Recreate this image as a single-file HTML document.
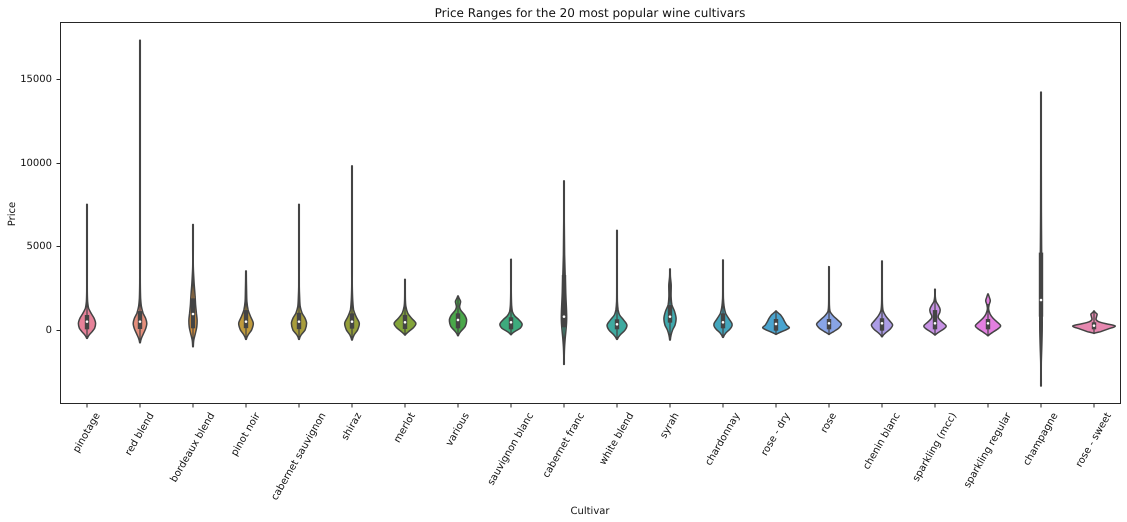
<!DOCTYPE html>
<html lang="en">
<head>
<meta charset="utf-8">
<title>Price Ranges for the 20 most popular wine cultivars</title>
<style>
html,body{margin:0;padding:0;background:#fff;width:1127px;height:522px;overflow:hidden}
svg{display:block}
text{font-family:"DejaVu Sans","Liberation Sans",sans-serif;font-size:10px;fill:#111;text-rendering:geometricPrecision}
</style>
</head>
<body>
<svg id="chart" xmlns="http://www.w3.org/2000/svg" width="1127" height="522" viewBox="0 0 1127 522"></svg>
<script>
const categories = ["pinotage","red blend","bordeaux blend","pinot noir","cabernet sauvignon","shiraz","merlot","various","sauvignon blanc","cabernet franc","white blend","syrah","chardonnay","rose - dry","rose","chenin blanc","sparkling (mcc)","sparkling regular","champagne","rose - sweet"];
const yTicks = [0,5000,10000,15000];
const fillColors = ["#e68299","#e58f7c","#d6923f","#bf9a3c","#a89d3c","#959f3a","#83a43a","#4aa84a","#3dab7d","#3dab8f","#3eaaa0","#40a9ad","#44a6bd","#4aa4cf","#88a4e6","#ac9de6","#c892e5","#e37fe0","#e383bf","#e688b0"];
const q1Values = [40,60,100,110,50,80,60,100,40,160,40,440,100,-40,40,-40,40,40,795,40];
const medianValues = [500,500,955,500,500,500,460,600,460,795,340,795,460,360,400,400,400,400,1790,260];
const q3Values = [896,1130,1890,1190,1030,995,900,995,760,3280,640,1490,995,656,656,700,1190,656,4620,460];
const whiskerLow = [-500,-760,-1000,-560,-560,-600,-300,-340,-280,-2050,-560,-600,-440,-260,-260,-400,-300,-340,-3340,-200];
const whiskerHigh = [2100,2700,4500,2800,2500,2400,2100,2030,1900,7900,1500,3100,2300,1135,1600,1800,2430,1550,9900,1060];
const priceLevels = [
[-500,-300,-100,100,400,700,1000,1300,1700,2300,3500,7500],
[-760,-500,-200,100,400,700,1000,1400,1900,2800,4000,17300],
[-1000,-600,-200,200,600,1000,1500,2000,2800,3800,5000,6300],
[-560,-300,0,400,800,1200,1700,2300,2900,3520],
[-560,-300,0,400,700,1000,1400,2000,2600,4000,7500],
[-600,-300,0,400,800,1200,1800,2600,3500,9800],
[-300,-100,150,400,700,1000,1400,1800,2400,3020],
[-340,-100,200,600,900,1200,1400,1700,1900,2030],
[-280,-100,100,350,600,850,1100,1500,2200,3000,4220],
[-2050,-1500,-1000,-500,0,500,1000,2000,3000,4500,6500,8900],
[-560,-300,0,300,600,900,1200,1700,2600,5950],
[-600,-300,0,300,700,1100,1500,2000,2700,3200,3640],
[-440,-200,100,350,700,1000,1400,1900,2800,4180],
[-260,-100,60,150,300,500,700,900,1050,1135],
[-260,-100,100,350,600,850,1100,1500,2300,3000,3780],
[-400,-200,50,300,550,850,1150,1600,2500,3200,4120],
[-300,-100,100,250,450,700,850,1050,1250,1500,1700,2000,2430],
[-340,-100,100,250,450,700,950,1250,1500,1750,2000,2150],
[-3340,-2000,-1000,0,1000,2000,3500,5000,7000,10000,14200],
[-200,-100,50,240,380,500,620,800,950,1060,1135]
];
const densities = [
[0,2.5,5.5,8,9,7.5,4.5,2,1,.4,.1,0],
[0,1.8,4,6.2,7.2,6,3.5,1.8,1,.4,.1,0],
[0,1.2,2.8,4.2,4.5,3.8,3,2.5,1.5,.5,.1,0],
[0,2.5,6,7.7,5,2.5,1.3,1,.8,0],
[0,2.5,6.5,8,6.5,3.5,1.6,1,.5,.1,0],
[0,2.5,6,7.7,4.5,2,1.1,.6,.1,0],
[0,4,9,11.3,7,3.2,1.3,.8,.5,0],
[0,3,7.5,9,7,3,2,3,1.5,0],
[0,4,9.5,11.5,8.5,4,1.8,1,.4,.2,0],
[0,.6,1,1.6,2.4,3,3,2.3,1.7,1,.6,0],
[0,3.5,8.5,10.3,7,3,1.5,.8,.3,0],
[0,1.5,3,5.5,6.5,5,2.3,1.5,1.6,.8,0],
[0,3,8,9.5,6,3,1.5,.8,.3,0],
[0,6,12,13.7,11,9,7.3,5,2,0],
[0,5,10,12.8,9,4.5,1.5,.8,.6,.3,0],
[0,3.5,8.5,11,8,4,1.5,.8,.4,.2,0],
[0,5,10,11.5,8,4,3.7,5.2,5.5,3.5,1.5,.6,0],
[0,6,11,13,10,5.5,2.5,1,1.5,2.7,1.5,0],
[0,.6,1.2,1.6,1.6,1.3,1.2,1,.8,.6,0],
[0,7,14,21.7,12,5,2.5,3,3.5,1.5,0]
];

const NS = "http://www.w3.org/2000/svg";
const svg = document.getElementById("chart");
const plotLeft = 60.5, plotRight = 1120.5, plotTop = 22.5, plotBottom = 403.5;
const xScale = i => plotLeft + (i + 0.5) * (plotRight - plotLeft) / categories.length;
const yScale = v => 330 - v * 0.01675;
const widthScale = d => Math.max(d - 0.4, 0.3);

function add(tag, attrs, parent) {
  const el = document.createElementNS(NS, tag);
  for (const k in attrs) el.setAttribute(k, attrs[k]);
  (parent || svg).appendChild(el);
  return el;
}

function sidePath(pts) {
  let d = "";
  for (let i = 0; i < pts.length - 1; i++) {
    const p0 = pts[Math.max(i - 1, 0)], p1 = pts[i], p2 = pts[i + 1], p3 = pts[Math.min(i + 2, pts.length - 1)];
    const c1x = p1[0] + (p2[0] - p0[0]) / 6, c1y = p1[1] + (p2[1] - p1[1]) / 3;
    const c2x = p2[0] - (p3[0] - p1[0]) / 6, c2y = p2[1] - (p2[1] - p1[1]) / 3;
    d += "C" + c1x.toFixed(2) + " " + c1y.toFixed(2) + " " + c2x.toFixed(2) + " " + c2y.toFixed(2) + " " + p2[0].toFixed(2) + " " + p2[1].toFixed(2);
  }
  return d;
}

categories.forEach((name, i) => {
  const cx = xScale(i);
  const group = add("g", {});
  
  

  const right = priceLevels[i].map((p, k) => [cx + widthScale(densities[i][k]), yScale(p)]);
  const left = priceLevels[i].map((p, k) => [cx - widthScale(densities[i][k]), yScale(p)]).reverse();
  const body = add("path", {
    d: "M" + right[0][0] + " " + right[0][1] + sidePath(right) + "L" + left[0][0] + " " + left[0][1] + sidePath(left) + "Z",
    fill: fillColors[i], stroke: "#444444", "stroke-width": 1.5, "stroke-linejoin": "round"
  }, group);
  
  

  const whisker = add("line", {
    x1: cx, x2: cx, y1: yScale(whiskerLow[i]), y2: yScale(whiskerHigh[i]),
    stroke: "#444444", "stroke-width": 1.2
  }, group);
  
  

  const box = add("rect", {
    x: cx - 2.2, width: 4.4, y: yScale(q3Values[i]), height: yScale(q1Values[i]) - yScale(q3Values[i]),
    fill: "#444444"
  }, group);
  
  

  const median = add("circle", { cx: cx, cy: yScale(medianValues[i]), r: 1.3, fill: "#ffffff" }, group);
  
  

  const tick = add("line", { x1: cx, x2: cx, y1: plotBottom, y2: plotBottom + 4, stroke: "#262626", "stroke-width": 1 });
  
  

  const label = add("text", { "text-anchor": "middle", "dominant-baseline": "central" });
  label.textContent = name;
  
  
  const len = label.getComputedTextLength();
  const cy = 411 + (len * Math.sin(Math.PI / 3) + 11 * Math.cos(Math.PI / 3)) / 2;
  label.setAttribute("x", cx);
  label.setAttribute("y", cy);
  label.setAttribute("transform", "rotate(-60 " + cx + " " + cy + ")");
});

yTicks.forEach(v => {
  const y = Math.round(yScale(v)) + 0.5;
  const tick = add("line", { x1: plotLeft - 4, x2: plotLeft, y1: y, y2: y, stroke: "#262626", "stroke-width": 1 });
  
  
  const label = add("text", { x: 52, y: y, "text-anchor": "end", "dominant-baseline": "central" });
  label.textContent = v;
  
  
});

const frame = add("rect", { x: plotLeft, y: plotTop, width: plotRight - plotLeft, height: plotBottom - plotTop, fill: "none", stroke: "#262626", "stroke-width": 1 });



const title = add("text", { x: 590, y: 17, "text-anchor": "middle", style: "font-size:12px" });
title.textContent = "Price Ranges for the 20 most popular wine cultivars";



const xTitle = add("text", { x: 590, y: 514, "text-anchor": "middle" });
xTitle.textContent = "Cultivar";



const yTitle = add("text", { x: 15, y: 214, "text-anchor": "middle", transform: "rotate(-90 15 214)" });
yTitle.textContent = "Price";


</script>
</body>
</html>
